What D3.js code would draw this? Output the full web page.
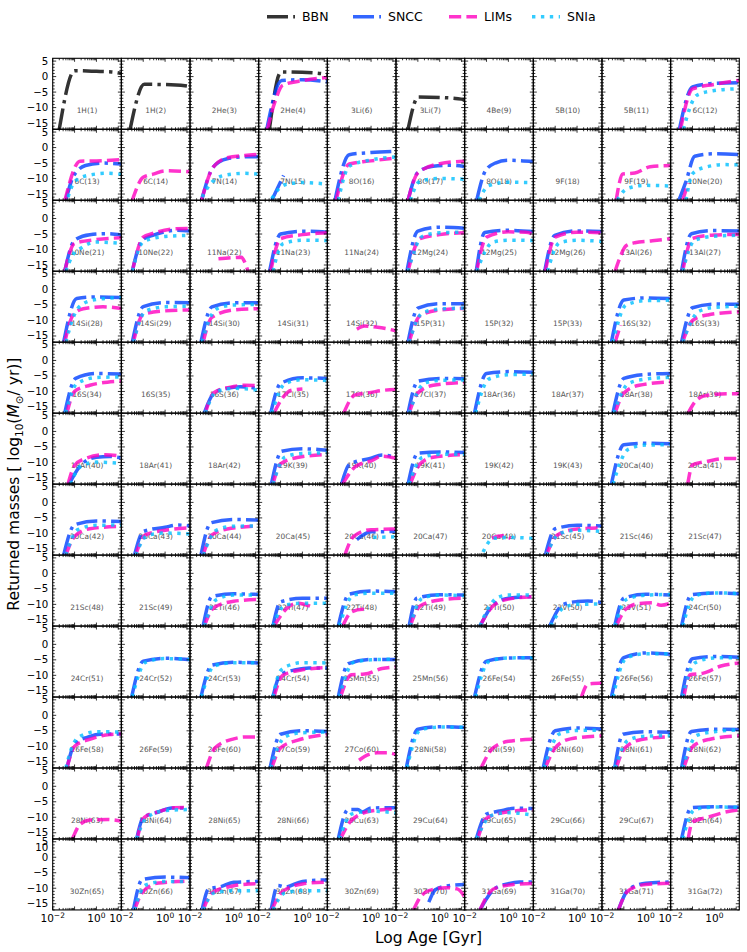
<!DOCTYPE html>
<html>
<head>
<meta charset="utf-8">
<script src="https://cdn.jsdelivr.net/npm/d3@7"></script>
<style>
  body { margin: 0; background: #fff; }
  svg { display: block; font-family: "DejaVu Sans", sans-serif; }
</style>
</head>
<body>
<div id="app"></div>
<script>
// one panel per isotope, 10 per row
const isotopes = [
    "1H(1)", "1H(2)", "2He(3)", "2He(4)", "3Li(6)", "3Li(7)", "4Be(9)", "5B(10)", "5B(11)", "6C(12)",
    "6C(13)", "6C(14)", "7N(14)", "7N(15)", "8O(16)", "8O(17)", "8O(18)", "9F(18)", "9F(19)", "10Ne(20)",
    "10Ne(21)", "10Ne(22)", "11Na(22)", "11Na(23)", "11Na(24)", "12Mg(24)", "12Mg(25)", "12Mg(26)", "13Al(26)", "13Al(27)",
    "14Si(28)", "14Si(29)", "14Si(30)", "14Si(31)", "14Si(32)", "15P(31)", "15P(32)", "15P(33)", "16S(32)", "16S(33)",
    "16S(34)", "16S(35)", "16S(36)", "17Cl(35)", "17Cl(36)", "17Cl(37)", "18Ar(36)", "18Ar(37)", "18Ar(38)", "18Ar(39)",
    "18Ar(40)", "18Ar(41)", "18Ar(42)", "19K(39)", "19K(40)", "19K(41)", "19K(42)", "19K(43)", "20Ca(40)", "20Ca(41)",
    "20Ca(42)", "20Ca(43)", "20Ca(44)", "20Ca(45)", "20Ca(46)", "20Ca(47)", "20Ca(48)", "21Sc(45)", "21Sc(46)", "21Sc(47)",
    "21Sc(48)", "21Sc(49)", "22Ti(46)", "22Ti(47)", "22Ti(48)", "22Ti(49)", "22Ti(50)", "23V(50)", "23V(51)", "24Cr(50)",
    "24Cr(51)", "24Cr(52)", "24Cr(53)", "24Cr(54)", "25Mn(55)", "25Mn(56)", "26Fe(54)", "26Fe(55)", "26Fe(56)", "26Fe(57)",
    "26Fe(58)", "26Fe(59)", "26Fe(60)", "27Co(59)", "27Co(60)", "28Ni(58)", "28Ni(59)", "28Ni(60)", "28Ni(61)", "28Ni(62)",
    "28Ni(63)", "28Ni(64)", "28Ni(65)", "28Ni(66)", "29Cu(63)", "29Cu(64)", "29Cu(65)", "29Cu(66)", "29Cu(67)", "30Zn(64)",
    "30Zn(65)", "30Zn(66)", "30Zn(67)", "30Zn(68)", "30Zn(69)", "30Zn(70)", "31Ga(69)", "31Ga(70)", "31Ga(71)", "31Ga(72)"
];

// curves: [log10(age / Gyr), log10(returned mass)]
const bbn = {
    "1H(1)": [[-1.7, -17], [-1.0, 1.9], [0, 1.7], [0.7, 1.5], [1.14, 1.0]],
    "1H(2)": [[-1.6, -17], [-0.95, -2.5], [0.5, -2.7], [1.14, -3.2]],
    "2He(4)": [[-1.51, -17], [-0.98, 1.5], [0.5, 1.2], [1.14, 0.7]],
    "3Li(7)": [[-1.45, -17], [-0.98, -6.6], [0.5, -6.9], [1.14, -7.4]]
};

const sncc = {
    "2He(4)": [[-1.63, -17], [-0.95, -1.3], [0, -1.0], [1.14, -1.7]],
    "6C(12)": [[-1.6, -17], [-1.0, -3.3], [0, -2.2], [1.14, -2.0]],
    "6C(13)": [[-1.4, -17], [-1.1, -10], [-0.8, -7], [-0.5, -5.8], [0.3, -5.0], [1.14, -5.3]],
    "7N(14)": [[-1.47, -17], [-0.94, -6.3], [-0.3, -3.6], [0.5, -3.0], [1.14, -3.0]],
    "7N(15)": [[-1.4, -17], [-0.86, -9]],
    "8O(16)": [[-1.65, -17], [-1.0, -2.3], [0, -1.6], [1.14, -1.2]],
    "8O(17)": [[-1.45, -17], [-1.0, -8], [-0.3, -6], [0.5, -5.7], [1.14, -6.1]],
    "8O(18)": [[-1.45, -17], [-1.05, -7.5], [-0.6, -5], [0, -4.1], [1.14, -4.5]],
    "10Ne(20)": [[-1.62, -17], [-1.3, -11], [-0.9, -2.8], [0, -2.0], [1.14, -2.3]],
    "10Ne(21)": [[-1.45, -17], [-1.0, -7], [-0.3, -5.2], [0.5, -4.9], [1.14, -5.3]],
    "10Ne(22)": [[-1.5, -17], [-1.05, -7], [-0.5, -5.3], [0.5, -3.8], [1.14, -4.0]],
    "11Na(23)": [[-1.5, -17], [-1.0, -5], [0, -4.1], [1.14, -4.4]],
    "12Mg(24)": [[-1.5, -17], [-1.0, -4.1], [0, -2.8], [1.14, -3.1]],
    "12Mg(25)": [[-1.47, -17], [-1.08, -4.5], [0, -3.8], [1.14, -4.2]],
    "12Mg(26)": [[-1.48, -17], [-1.02, -5.4], [0, -4.0], [1.14, -4.2]],
    "13Al(27)": [[-1.5, -17], [-1.05, -4.9], [0, -3.9], [1.14, -4.0]],
    "14Si(28)": [[-1.5, -17], [-0.9, -2.9], [0, -2.4], [1.14, -2.6]],
    "14Si(29)": [[-1.5, -17], [-1.0, -5.5], [0, -4.2], [1.14, -4.3]],
    "14Si(30)": [[-1.5, -17], [-1.0, -5.6], [0, -4.3], [1.14, -4.3]],
    "15P(31)": [[-1.45, -17], [-1.0, -6], [0, -4.6], [1.14, -4.6]],
    "16S(32)": [[-1.57, -17], [-1.0, -3.4], [0, -2.7], [1.14, -2.9]],
    "16S(33)": [[-1.5, -17], [-1.0, -5.9], [0, -4.7], [1.14, -4.8]],
    "16S(34)": [[-1.45, -17], [-0.95, -5.8], [0, -4.2], [1.14, -4.4]],
    "16S(36)": [[-1.35, -17], [-0.9, -10.5], [-0.3, -9], [0.3, -8.5], [1.14, -9.1]],
    "17Cl(35)": [[-1.45, -17], [-1.0, -7.4], [0, -5.6], [1.14, -5.8]],
    "17Cl(37)": [[-1.45, -17], [-1.0, -6.7], [0, -5.8], [1.14, -5.9]],
    "18Ar(36)": [[-1.55, -17], [-1.0, -4.2], [0, -3.6], [1.14, -3.8]],
    "18Ar(38)": [[-1.5, -17], [-1.0, -5.8], [0, -4.5], [1.14, -4.2]],
    "18Ar(40)": [[-1.25, -17], [-0.7, -10.8], [0, -8.3], [0.6, -8.1], [1.14, -8.6]],
    "19K(39)": [[-1.42, -17], [-0.95, -6.4], [0, -5.6], [1.14, -6.1]],
    "19K(40)": [[-1.35, -17], [-1.0, -10.7], [0, -8.6], [0.5, -7.6], [1.14, -8.4]],
    "19K(41)": [[-1.45, -17], [-1.0, -7], [0, -6.6], [1.14, -6.8]],
    "20Ca(40)": [[-1.57, -17], [-1.0, -4.3], [0, -3.8], [1.14, -4.0]],
    "20Ca(42)": [[-1.5, -17], [-1.0, -7.2], [0, -6.0], [1.14, -6.2]],
    "20Ca(43)": [[-1.4, -17], [-1.0, -9.4], [0, -8], [0.6, -7.3], [1.14, -7.6]],
    "20Ca(44)": [[-1.5, -17], [-1.05, -6.6], [0, -5.5], [1.14, -5.7]],
    "20Ca(46)": [[-0.65, -12], [0, -9.5], [1.14, -9.4]],
    "21Sc(45)": [[-1.45, -17], [-1.0, -8.5], [0, -7.4], [1.14, -7.6]],
    "22Ti(46)": [[-1.4, -17], [-1.0, -7.5], [0, -6.6], [1.14, -6.8]],
    "22Ti(47)": [[-1.35, -17], [-1.0, -9.2], [0, -8.0], [1.14, -8.0]],
    "22Ti(48)": [[-1.5, -17], [-1.0, -6.7], [0, -5.7], [1.14, -5.9]],
    "22Ti(49)": [[-1.4, -17], [-1.05, -8], [0, -6.9], [1.14, -7.0]],
    "22Ti(50)": [[-1.3, -17], [-0.7, -10.2], [0, -8], [1.14, -7.5]],
    "23V(50)": [[-1.25, -17], [-0.65, -10.1], [0, -9.1], [0.5, -8.9], [1.14, -9.4]],
    "23V(51)": [[-1.42, -17], [-1.0, -8], [0, -6.7], [1.14, -7.0]],
    "24Cr(50)": [[-1.5, -17], [-1.05, -6.9], [0, -6.3], [1.14, -6.6]],
    "24Cr(52)": [[-1.53, -17], [-1.0, -5.4], [0, -4.5], [1.14, -5.0]],
    "24Cr(53)": [[-1.5, -17], [-1.0, -6.7], [0, -5.8], [1.14, -6.0]],
    "24Cr(54)": [[-1.35, -17], [-1.0, -9.7], [-0.3, -8.2], [0.3, -7.6], [1.14, -7.6]],
    "25Mn(55)": [[-1.5, -17], [-1.04, -6.2], [0, -4.9], [1.14, -4.9]],
    "26Fe(54)": [[-1.55, -17], [-1.0, -5.4], [0, -4.4], [1.14, -4.3]],
    "26Fe(56)": [[-1.57, -17], [-1.0, -4.3], [0, -2.8], [1.14, -3.2]],
    "26Fe(57)": [[-1.5, -17], [-1.0, -4.6], [0, -3.9], [1.14, -4.2]],
    "26Fe(58)": [[-1.35, -17], [-1.0, -9.3], [-0.4, -7], [0.3, -6], [1.14, -6.0]],
    "27Co(59)": [[-1.48, -17], [-1.0, -6.1], [0, -5.0], [1.14, -5.2]],
    "28Ni(58)": [[-1.53, -17], [-1.0, -4.5], [0, -3.7], [1.14, -3.9]],
    "28Ni(60)": [[-1.55, -17], [-1.0, -5.0], [0, -4.1], [1.14, -4.4]],
    "28Ni(61)": [[-1.42, -17], [-1.04, -6.1], [0, -5.3], [1.14, -5.5]],
    "28Ni(62)": [[-1.5, -17], [-1.05, -5.2], [0, -4.5], [1.14, -4.6]],
    "28Ni(64)": [[-1.3, -17], [-1.0, -10.1], [-0.3, -8.3], [0.3, -7.0], [1.14, -7.0]],
    "29Cu(63)": [[-1.5, -17], [-1.05, -7.5], [-0.6, -7.5], [-0.4, -8.3], [0, -7.0], [1.14, -6.9]],
    "29Cu(65)": [[-1.47, -17], [-1.0, -9], [-0.4, -8], [0.3, -7.1], [1.14, -7.2]],
    "30Zn(64)": [[-1.5, -17], [-1.05, -6.9], [0, -6.6], [1.14, -6.8]],
    "30Zn(66)": [[-1.45, -17], [-1.05, -7.2], [0, -6.4], [1.14, -6.6]],
    "30Zn(67)": [[-1.45, -17], [-1.15, -10.2], [-0.6, -9.5], [0, -8.1], [1.14, -7.8]],
    "30Zn(68)": [[-1.43, -17], [-1.12, -9.1], [-0.8, -9.6], [0, -7.8], [1.14, -7.3]],
    "30Zn(70)": [[-0.5, -14.5], [-0.2, -10.5], [0.3, -9.3], [1.14, -8.8]],
    "31Ga(69)": [[-1.3, -17], [-0.6, -10], [0, -8.5], [0.5, -8.0], [1.14, -8.0]],
    "31Ga(71)": [[-1.25, -17], [-0.8, -10.5], [0, -8.4], [1.14, -8.0]]
};

const lims = {
    "2He(4)": [[-1.6, -17], [-1.25, -8], [-0.9, -2.8], [0, -1.3], [1.14, -0.3]],
    "6C(12)": [[-1.55, -17], [-1.0, -4], [0, -2.5], [1.14, -1.2]],
    "6C(13)": [[-1.44, -17], [-0.75, -4.4], [0, -4.3], [1.14, -3.9]],
    "6C(14)": [[-1.5, -17], [-1.0, -9.6], [-0.5, -8.5], [0, -7.5], [1.14, -7.8]],
    "7N(14)": [[-1.47, -17], [-0.94, -6.3], [-0.3, -3.3], [0.5, -2.6], [1.14, -2.2]],
    "8O(16)": [[-1.6, -17], [-1.0, -5.3], [0, -4.3], [1.14, -3.4]],
    "8O(17)": [[-1.45, -17], [-1.0, -8.2], [0, -5.2], [1.14, -4.4]],
    "9F(19)": [[-1.35, -17], [-1.05, -8.5], [-0.5, -8.2], [0.2, -6.2], [1.14, -5.8]],
    "10Ne(20)": [[-1.45, -17], [-1.2, -11.5]],
    "10Ne(21)": [[-1.45, -17], [-1.0, -8], [0, -6.8], [1.14, -6.2]],
    "10Ne(22)": [[-1.5, -17], [-1.0, -6], [-0.6, -4.9], [0.5, -3.3], [1.14, -3.2]],
    "11Na(22)": [[-0.7, -13], [0, -12.6], [0.35, -12.5], [0.5, -14], [0.65, -17]],
    "11Na(23)": [[-1.45, -17], [-1.0, -6.5], [0, -5.2], [1.14, -4.6]],
    "12Mg(24)": [[-1.45, -17], [-0.9, -6.5], [0, -5.2], [1.14, -4.6]],
    "12Mg(25)": [[-1.45, -17], [-1.0, -6], [0, -4.3], [0.8, -4.4], [1.14, -5.1]],
    "12Mg(26)": [[-1.45, -17], [-1.0, -6], [0, -4.4], [1.14, -4.6]],
    "13Al(26)": [[-1.4, -17], [-1.2, -13], [-0.9, -8.8], [-0.5, -7.8], [0.3, -7.2], [1.14, -6.5]],
    "13Al(27)": [[-1.45, -17], [-1.0, -6.4], [0, -5.3], [1.14, -5.1]],
    "14Si(28)": [[-1.45, -17], [-1.05, -8], [-0.6, -6.2], [0.3, -5.6], [1.14, -6.1]],
    "14Si(29)": [[-1.45, -17], [-1.0, -8], [0, -6.9], [1.14, -6.6]],
    "14Si(30)": [[-1.4, -17], [-1.0, -9], [0, -6.6], [1.14, -6.2]],
    "14Si(32)": [[-0.65, -12.8], [-0.3, -11.8], [0.3, -12.2], [1.14, -13.3]],
    "15P(31)": [[-1.4, -17], [-0.9, -8.5], [0, -6.6], [1.14, -6.1]],
    "16S(32)": [[-1.4, -17], [-1.15, -11.5]],
    "16S(33)": [[-1.45, -17], [-1.0, -10], [-0.3, -8.2], [1.14, -7.2]],
    "16S(34)": [[-1.35, -17], [-1.0, -10], [-0.3, -8], [0.5, -7], [1.14, -6.7]],
    "16S(36)": [[-1.3, -17], [-0.9, -10.3], [0, -8.4], [0.5, -8.0], [1.14, -8.2]],
    "17Cl(35)": [[-1.3, -17], [-0.9, -12], [-0.5, -9.6], [0, -9.2]],
    "17Cl(36)": [[-1.25, -17], [-0.75, -11.2], [0, -10.3], [0.6, -9.6], [1.14, -9.4]],
    "17Cl(37)": [[-1.4, -17], [-1.0, -10.5], [-0.3, -8], [1.14, -7.1]],
    "18Ar(38)": [[-1.4, -17], [-1.0, -10.5], [-0.3, -8], [1.14, -6.9]],
    "18Ar(39)": [[-1.2, -17], [-0.9, -13.5], [-0.5, -11.5], [0.3, -10.8], [1.14, -10.7]],
    "18Ar(40)": [[-1.3, -17], [-1.0, -11], [-0.6, -9], [0.4, -7.5], [1.14, -8]],
    "19K(39)": [[-1.35, -17], [-1.0, -10.5], [-0.3, -8.5], [1.14, -7.4]],
    "19K(40)": [[-1.3, -17], [-0.7, -11.3], [0, -9.5], [0.5, -8], [1.14, -8.7]],
    "19K(41)": [[-1.35, -17], [-0.9, -10.5], [-0.3, -8.3], [1.14, -7.5]],
    "20Ca(41)": [[-1.22, -17], [-1.0, -10.8], [-0.3, -9.6], [0.5, -8.7], [1.14, -8.7]],
    "20Ca(42)": [[-1.4, -17], [-1.0, -11], [-0.3, -8.5], [1.14, -7.7]],
    "20Ca(43)": [[-1.35, -17], [-0.9, -10.5], [0, -9], [1.14, -8.2]],
    "20Ca(44)": [[-1.4, -17], [-1.0, -10.5], [-0.3, -8.6], [1.14, -7.6]],
    "20Ca(46)": [[-1.2, -17], [-0.8, -11], [0, -8.8], [1.14, -8.6]],
    "20Ca(48)": [[-0.75, -11.5], [-0.3, -10.8], [0.1, -11.6]],
    "21Sc(45)": [[-1.4, -17], [-0.9, -10.5], [0, -8.6], [1.14, -8.2]],
    "22Ti(46)": [[-1.35, -17], [-0.9, -11], [0, -9], [1.14, -8.4]],
    "22Ti(47)": [[-1.3, -17], [-0.6, -10.6], [-0.2, -9.6], [0.35, -10.6]],
    "22Ti(48)": [[-1.3, -17], [-0.9, -12.5], [-0.4, -11.6], [-0.2, -12.2]],
    "22Ti(49)": [[-1.35, -17], [-0.9, -10.5], [0, -8.6], [1.14, -8.0]],
    "22Ti(50)": [[-1.3, -17], [-0.7, -10.5], [0, -8.3], [1.14, -7.5]],
    "23V(51)": [[-1.35, -17], [-0.9, -11.5], [-0.3, -9.7], [0.3, -9.5], [0.7, -10.3], [1.14, -9.6]],
    "24Cr(54)": [[-1.3, -17], [-0.9, -10], [0, -8.2], [1.14, -7.5]],
    "25Mn(55)": [[-1.4, -17], [-0.9, -9.8], [-0.3, -9.6], [0.5, -7.8], [1.14, -7.3]],
    "26Fe(55)": [[0.2, -17], [0.5, -12.8], [1.14, -12.5]],
    "26Fe(57)": [[-1.4, -17], [-1.1, -9.8], [-0.5, -9.3], [0.3, -7], [1.14, -6.0]],
    "26Fe(58)": [[-1.35, -17], [-1.0, -10], [-0.2, -7.5], [0.6, -6.2], [1.14, -6.0]],
    "26Fe(60)": [[-1.25, -17], [-0.85, -10.5], [0, -7.6], [0.5, -7.0], [1.14, -7.0]],
    "27Co(59)": [[-1.4, -17], [-1.0, -10.5], [-0.2, -8], [1.14, -6.2]],
    "27Co(60)": [[-0.55, -14.5], [-0.3, -13.3], [0.3, -12.1], [0.8, -12.1], [1.14, -12.7]],
    "28Ni(59)": [[-1.25, -17], [-0.7, -10.5], [0, -8.4], [1.14, -7.7]],
    "28Ni(60)": [[-1.45, -17], [-1.0, -10.5], [-0.3, -7.6], [1.14, -6.6]],
    "28Ni(61)": [[-1.35, -17], [-0.95, -10.5], [-0.2, -7.8], [1.14, -6.9]],
    "28Ni(62)": [[-1.4, -17], [-0.95, -9.8], [-0.2, -7.7], [1.14, -6.6]],
    "28Ni(63)": [[-1.1, -17], [-0.75, -12.3], [-0.3, -10.9], [0.5, -10.7], [1.14, -11.2]],
    "28Ni(64)": [[-1.28, -17], [-0.95, -10], [-0.2, -8], [0.4, -6.9], [1.14, -6.8]],
    "29Cu(63)": [[-1.4, -17], [-0.9, -11], [0, -8], [1.14, -7.3]],
    "29Cu(65)": [[-1.4, -17], [-1.0, -10.3], [0, -8.2], [1.14, -7.6]],
    "30Zn(64)": [[-1.2, -17], [-1.0, -11.5], [-0.3, -10], [0.4, -8.5], [1.14, -7.6]],
    "30Zn(66)": [[-1.4, -17], [-1.0, -11], [-0.3, -8.3], [1.14, -7.7]],
    "30Zn(67)": [[-1.4, -17], [-1.0, -11.5], [0, -9.2], [1.14, -8.5]],
    "30Zn(68)": [[-1.4, -17], [-0.9, -11], [0, -8.6], [1.14, -8.0]],
    "30Zn(70)": [[-1.2, -17], [-0.9, -13], [-0.5, -10.8], [0.3, -9.8], [0.8, -10.2], [1.14, -12.8]],
    "31Ga(69)": [[-1.3, -17], [-0.7, -10.3], [0, -9], [0.5, -8.6], [1.14, -8.5]],
    "31Ga(71)": [[-1.25, -17], [-0.8, -10.8], [0, -8.8], [1.14, -8.4]]
};

const snia = {
    "6C(12)": [[-1.42, -17], [-0.8, -6], [0, -4.5], [1.14, -3.9]],
    "6C(13)": [[-1.3, -16], [-1.0, -11], [-0.4, -9], [0.5, -8.3], [1.14, -8.6]],
    "7N(14)": [[-1.45, -16], [-1.1, -12], [-0.8, -10], [-0.3, -8.8], [0.5, -8.3], [1.14, -8.6]],
    "7N(15)": [[-1.4, -16.5], [-1.1, -13.5], [-0.8, -12], [0, -11.3], [1.14, -11.8]],
    "8O(16)": [[-1.5, -17], [-1.0, -6], [0, -4], [1.14, -3.0]],
    "8O(17)": [[-1.35, -17], [-0.9, -10.8], [0, -10], [1.14, -10.2]],
    "8O(18)": [[-1.35, -17], [-0.9, -12.3], [0, -11.2], [1.14, -11.3]],
    "9F(19)": [[-1.3, -17], [-1.0, -14], [-0.6, -12.7], [0, -12.2], [1.14, -12.4]],
    "10Ne(20)": [[-1.3, -17], [-1.0, -8.5], [-0.5, -6.5], [0.5, -5.5], [1.14, -5.6]],
    "10Ne(21)": [[-1.4, -17], [-1.1, -12], [-0.7, -9.5], [0, -7.6], [1.14, -8]],
    "10Ne(22)": [[-1.5, -17], [-1.0, -7.5], [0, -5.8], [1.14, -5.4]],
    "11Na(23)": [[-1.35, -17], [-0.9, -8.2], [0, -7.0], [1.14, -7.1]],
    "12Mg(24)": [[-1.45, -17], [-0.8, -5.8], [0, -4.6], [1.14, -4.4]],
    "12Mg(25)": [[-1.45, -17], [-0.7, -7.6], [0, -7.0], [1.14, -7.1]],
    "12Mg(26)": [[-1.35, -17], [-0.8, -7.8], [0, -7.0], [1.14, -7.4]],
    "13Al(27)": [[-1.45, -17], [-0.9, -7], [0, -5.7], [1.14, -5.4]],
    "14Si(28)": [[-1.4, -17], [-1.0, -8], [-0.7, -5], [0, -3.2], [1.14, -2.6]],
    "14Si(29)": [[-1.45, -17], [-0.9, -7], [0, -5.6], [1.14, -5.4]],
    "14Si(30)": [[-1.45, -17], [-1.0, -8], [-0.7, -6], [0, -5], [1.14, -4.8]],
    "15P(31)": [[-1.4, -17], [-0.8, -7.6], [0, -6.3], [1.14, -6.0]],
    "16S(32)": [[-1.5, -17], [-0.9, -5], [0, -3.6], [1.14, -3.5]],
    "16S(33)": [[-1.45, -17], [-0.7, -7], [0, -5.8], [1.14, -5.4]],
    "16S(34)": [[-1.4, -17], [-0.9, -7.5], [0, -5.5], [1.14, -5.3]],
    "16S(36)": [[-1.3, -17], [-0.8, -10], [0, -9], [1.14, -9.6]],
    "17Cl(35)": [[-1.4, -17], [-0.8, -7.5], [0, -6.2], [1.14, -6.5]],
    "17Cl(37)": [[-1.4, -17], [-0.7, -7.3], [0, -6.4], [1.14, -6.3]],
    "18Ar(36)": [[-1.5, -17], [-0.9, -6], [0, -4.6], [1.14, -4.4]],
    "18Ar(38)": [[-1.45, -17], [-0.8, -7.5], [0, -6], [1.14, -5.4]],
    "18Ar(40)": [[-1.2, -17], [-0.7, -11.2], [0, -9.9], [1.14, -10.3]],
    "19K(39)": [[-1.35, -17], [-0.8, -8.3], [0, -7.1], [1.14, -6.9]],
    "19K(41)": [[-1.4, -17], [-0.8, -8.4], [0, -7.4], [1.14, -7.4]],
    "20Ca(40)": [[-1.5, -17], [-0.8, -5.8], [0, -4.4], [1.14, -4.3]],
    "20Ca(42)": [[-1.4, -17], [-0.85, -8.8], [0, -7.4], [1.14, -7.3]],
    "20Ca(43)": [[-1.35, -17], [-0.8, -10.6], [0, -9.9], [1.14, -10.2]],
    "20Ca(44)": [[-1.4, -17], [-0.8, -9], [0, -7.7], [1.14, -7.6]],
    "20Ca(46)": [[0.1, -11.3], [1.14, -11.1]],
    "20Ca(48)": [[-1.16, -16], [-0.7, -11.6], [0, -11.3], [1.14, -11.6]],
    "21Sc(45)": [[-1.4, -17], [-0.8, -10], [0, -9], [1.14, -9.4]],
    "22Ti(46)": [[-1.35, -17], [-0.8, -8.5], [0, -7], [1.14, -7.0]],
    "22Ti(47)": [[-1.35, -17], [-0.8, -10.3], [0, -9.6], [1.14, -9.6]],
    "22Ti(48)": [[-1.45, -17], [-0.8, -7], [0, -6.4], [1.14, -6.4]],
    "22Ti(49)": [[-1.35, -17], [-0.8, -8], [0, -7], [1.14, -7.2]],
    "22Ti(50)": [[-1.3, -17], [-0.9, -11], [-0.5, -7.8], [0, -7.0], [1.14, -7.0]],
    "23V(50)": [[-1.2, -17], [-0.6, -11], [0, -10], [1.14, -9.9]],
    "23V(51)": [[-1.4, -17], [-0.9, -8.5], [0, -7], [1.14, -6.8]],
    "24Cr(50)": [[-1.45, -17], [-0.9, -7.3], [0, -6.3], [1.14, -6.5]],
    "24Cr(52)": [[-1.5, -17], [-0.9, -5.8], [0, -4.6], [1.14, -4.8]],
    "24Cr(53)": [[-1.48, -17], [-0.9, -7], [0, -5.9], [1.14, -6.0]],
    "24Cr(54)": [[-1.35, -17], [-1.0, -8.5], [-0.5, -6.5], [0, -5.9], [1.14, -6.0]],
    "25Mn(55)": [[-1.45, -17], [-0.8, -5.8], [0, -5.0], [1.14, -4.8]],
    "26Fe(54)": [[-1.5, -17], [-0.9, -5.6], [0, -4.4], [1.14, -4.3]],
    "26Fe(56)": [[-1.5, -17], [-0.9, -4.5], [0, -3.0], [1.14, -3.1]],
    "26Fe(57)": [[-1.45, -17], [-0.9, -6], [0, -4.4], [1.14, -4.3]],
    "26Fe(58)": [[-1.4, -17], [-1.0, -8.5], [-0.5, -6], [0, -5.3], [1.14, -5.4]],
    "27Co(59)": [[-1.45, -17], [-0.8, -7], [0, -5.6], [1.14, -5.4]],
    "28Ni(58)": [[-1.5, -17], [-0.9, -4.8], [0, -3.8], [1.14, -3.9]],
    "28Ni(60)": [[-1.5, -17], [-0.8, -6], [0, -4.9], [1.14, -4.8]],
    "28Ni(61)": [[-1.4, -17], [-0.8, -8], [0, -6.7], [1.14, -6.6]],
    "28Ni(62)": [[-1.45, -17], [-0.8, -6.5], [0, -5.3], [1.14, -4.7]],
    "28Ni(64)": [[-1.3, -17], [-0.9, -10.5], [0, -7.8], [1.14, -7.5]],
    "29Cu(63)": [[-1.45, -17], [-0.9, -9], [0, -8], [1.14, -8.6]],
    "29Cu(65)": [[-1.45, -17], [-0.8, -9.5], [0, -8.5], [1.14, -9.3]],
    "30Zn(64)": [[-1.45, -17], [-0.9, -7.5], [0, -6.7], [1.14, -6.8]],
    "30Zn(66)": [[-1.4, -17], [-0.9, -9], [0, -7.8], [1.14, -7.9]],
    "30Zn(67)": [[-1.4, -17], [-0.9, -11.5], [0, -10.8], [1.14, -10.8]],
    "30Zn(68)": [[-1.35, -17], [-0.8, -11.5], [0, -10.8], [1.14, -10.8]]
};

const seriesNames = ["BBN", "SNCC", "LIMs", "SNIa"];
const yTickValues = [5, 0, -5, -10, -15];
const xTickValues = [0.01, 1];

const draw = () => {
    const width = 747;
    const height = 952;
    const left = 52.7, top = 58.3;
    const pw = 68.66, ph = 70.97;
    const ncol = 10;
    const nrow = Math.ceil(isotopes.length / ncol);

    const styles = [
        { data: bbn, color: '#000000', dash: '21,5.2,3.4,5.2' },
        { data: sncc, color: '#0040ff', dash: '21,5.2,3.4,5.2' },
        { data: lims, color: '#ff00bf', dash: '12.2,5.2' },
        { data: snia, color: '#00bfff', dash: '3.4,5.5' }
    ];

    const svg = d3.select('#app')
        .append('svg')
        .attr('width', width)
        .attr('height', height);

    const x = d3.scaleLog().domain([0.01, 13.8]).range([0, pw]);
    const y = d3.scaleLinear().domain([-17, 5.9]).range([ph, 0]);

    const line = d3.line()
        .x(d => x(Math.pow(10, d[0])))
        .y(d => y(d[1]))
        .curve(d3.curveMonotoneX);

    svg.append('defs').append('clipPath')
        .attr('id', 'pclip')
        .append('rect')
        .attr('width', pw)
        .attr('height', ph);

    // tick positions
    const yMinor = d3.range(-17, 6).filter(v => v % 5 !== 0);
    const xMajor = [0.01, 0.1, 1, 10];
    const xMinor = [];
    [-2, -1, 0, 1].forEach(e => {
        d3.range(2, 10).forEach(k => {
            const v = k * Math.pow(10, e);
            if (v < 13.8) xMinor.push(v);
        });
    });

    const panels = svg.selectAll('g.panel')
        .data(isotopes)
        .enter()
        .append('g')
        .attr('class', 'panel')
        .attr('transform', (d, i) => `translate(${left + (i % ncol) * pw},${top + Math.floor(i / ncol) * ph})`);

    panels.append('text')
        .attr('x', pw / 2)
        .attr('y', ph * 0.74)
        .attr('text-anchor', 'middle')
        .attr('dominant-baseline', 'central')
        .attr('font-size', 7.4)
        .attr('fill', '#555')
        .text(d => d);

    const curves = panels.append('g').attr('clip-path', 'url(#pclip)');
    styles.forEach(s => {
        curves.filter(d => s.data[d])
            .append('path')
            .attr('d', d => line(s.data[d]))
            .attr('fill', 'none')
            .attr('stroke', s.color)
            .attr('stroke-opacity', 0.8)
            .attr('stroke-width', 3.5)
            .attr('stroke-dasharray', s.dash);
    });

    const tickG = panels.append('g')
        .attr('stroke', '#000')
        .attr('stroke-width', 0.8);

    const addY = (vals, len) => {
        vals.forEach(v => {
            tickG.append('line').attr('x1', 0).attr('x2', len).attr('y1', y(v)).attr('y2', y(v));
            tickG.append('line').attr('x1', pw - len).attr('x2', pw).attr('y1', y(v)).attr('y2', y(v));
        });
    };
    const addX = (vals, len) => {
        vals.forEach(v => {
            tickG.append('line').attr('x1', x(v)).attr('x2', x(v)).attr('y1', ph).attr('y2', ph - len);
            tickG.append('line').attr('x1', x(v)).attr('x2', x(v)).attr('y1', 0).attr('y2', len);
        });
    };
    addY(yTickValues, 3.5);
    addY(yMinor, 2);
    addX(xMajor, 3.5);
    addX(xMinor, 2);

    panels.append('rect')
        .attr('width', pw)
        .attr('height', ph)
        .attr('fill', 'none')
        .attr('stroke', '#000')
        .attr('stroke-width', 1.1);

    // y tick labels, first column
    const fmt = v => (v < 0 ? '\u2212' + Math.abs(v) : '' + v);
    d3.range(nrow).forEach(r => {
        svg.append('g')
            .selectAll('text')
            .data(yTickValues)
            .enter()
            .append('text')
            .attr('x', left - 4.5)
            .attr('y', v => top + r * ph + y(v))
            .attr('text-anchor', 'end')
            .attr('dominant-baseline', 'central')
            .attr('font-size', 10.2)
            .attr('fill', '#000')
            .text(fmt);
    });
    // stray label of the last row
    svg.append('text')
        .attr('x', left - 4.5)
        .attr('y', top + (nrow - 1) * ph + y(3))
        .attr('text-anchor', 'end')
        .attr('dominant-baseline', 'central')
        .attr('font-size', 10.2)
        .text('10');

    // x tick labels, bottom row
    const bottom = top + nrow * ph;
    d3.range(ncol).forEach(c => {
        xTickValues.forEach(v => {
            const t = svg.append('text')
                .attr('x', left + c * pw + x(v))
                .attr('y', bottom + 12.5)
                .attr('text-anchor', 'middle')
                .attr('font-size', 10.5);
            t.append('tspan').text('10');
            t.append('tspan')
                .attr('dy', -4.5)
                .attr('font-size', 7.5)
                .text(fmt(Math.round(Math.log10(v))));
        });
    });

    svg.append('text')
        .attr('x', 375)
        .attr('y', 943)
        .attr('font-size', 15.5)
        .text('Log  Age [Gyr]');

    const yl = svg.append('text')
        .attr('transform', `translate(19,${top + nrow * ph / 2}) rotate(-90)`)
        .attr('text-anchor', 'middle')
        .attr('font-size', 15.5);
    yl.append('tspan').text('Returned masses [ log');
    yl.append('tspan').attr('font-size', 10.5).attr('dy', 4).text('10');
    yl.append('tspan').attr('dy', -4).text('(');
    yl.append('tspan').attr('font-style', 'italic').text('M');
    yl.append('tspan').attr('font-size', 10.5).attr('dy', 4).text('\u2299');
    yl.append('tspan').attr('dy', -4).text('/ yr)]');

    // legend
    const legX = [267, 353, 449, 532];
    const leg = svg.append('g');
    seriesNames.forEach((name, i) => {
        leg.append('line')
            .attr('x1', legX[i]).attr('x2', legX[i] + 28)
            .attr('y1', 16.7).attr('y2', 16.7)
            .attr('stroke', styles[i].color)
            .attr('stroke-opacity', 0.8)
            .attr('stroke-width', 3.5)
            .attr('stroke-dasharray', styles[i].dash);
        leg.append('text')
            .attr('x', legX[i] + 35)
            .attr('y', 16.7)
            .attr('dominant-baseline', 'central')
            .attr('font-size', 12.5)
            .text(name);
    });
};

draw();
</script>
</body>
</html>
